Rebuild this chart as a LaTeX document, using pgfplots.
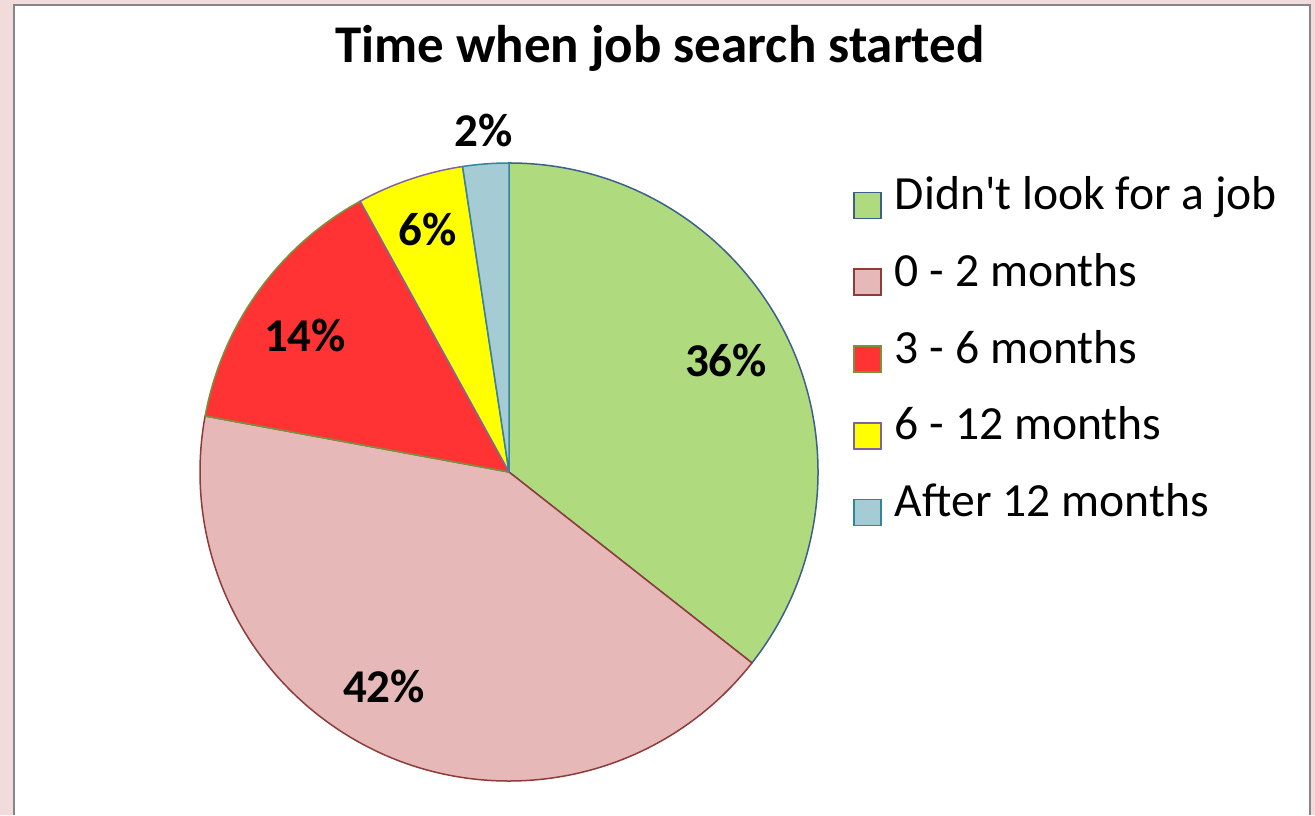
\documentclass[border=0pt]{standalone}
\usepackage{fontspec}
\setmainfont{Carlito}
\usepackage{pgfplots}
\usepackage{pgfplotstable}
\pgfplotsset{compat=1.18}

\definecolor{pagebg}{RGB}{242,220,219}
\definecolor{framegray}{RGB}{134,134,134}
\definecolor{sGreen}{RGB}{176,218,126}
\definecolor{sGreenL}{RGB}{60,95,140}
\definecolor{sPink}{RGB}{230,185,184}
\definecolor{sPinkL}{RGB}{142,59,57}
\definecolor{sRed}{RGB}{255,51,51}
\definecolor{sRedL}{RGB}{119,147,60}
\definecolor{sYellow}{RGB}{255,255,0}
\definecolor{sYellowL}{RGB}{128,100,162}
\definecolor{sBlue}{RGB}{165,203,213}
\definecolor{sBlueL}{RGB}{49,133,156}

% share (%), colours, label position (picture units, y up)
\pgfplotstableread[col sep=comma]{
label,value,fillc,linec,lx,ly
Didn\textquotesingle t look for a job,35.6,sGreen,sGreenL,726,438
0 - 2 months,42.3,sPink,sPinkL,384,113
3 - 6 months,14.1,sRed,sRedL,305,463
6 - 12 months,5.6,sYellow,sYellowL,428,569
After 12 months,2.4,sBlue,sBlueL,484,668
}\pietable

\begin{document}
\begin{tikzpicture}
\begin{axis}[
    x=0.5bp, y=0.5bp,
    xmin=0, xmax=1315, ymin=0, ymax=815,
    hide axis,
    legend cell align=left,
    legend style={
        at={(axis cs:853,638)}, anchor=north west,
        draw=none, fill=none, inner sep=0pt,
        font=\fontsize{23.8bp}{28bp}\selectfont,
        nodes={inner sep=0pt, text height=16bp, text depth=5bp},
        row sep=17.4bp, column sep=6.5bp,
    },
]
\fill[pagebg] (axis cs:0,0) rectangle (axis cs:1315,815);
\fill[white] (axis cs:14,0) rectangle (axis cs:1310,810);
\draw[framegray, line width=1.2bp] (axis cs:14,0) -- (axis cs:14,810) -- (axis cs:1310,810) -- (axis cs:1310,0);

\node[font=\bfseries\fontsize{26.5bp}{30bp}\selectfont, anchor=base]
    at (axis cs:660,752) {Time when job search started};

% slices, clockwise from the top
\def\startang{90}
\pgfplotsforeachungrouped \i in {0,...,4}{%
    \pgfplotstablegetelem{\i}{value}\of\pietable \let\v\pgfplotsretval
    \pgfplotstablegetelem{\i}{fillc}\of\pietable \let\fc\pgfplotsretval
    \pgfplotstablegetelem{\i}{linec}\of\pietable \let\lc\pgfplotsretval
    \pgfplotstablegetelem{\i}{label}\of\pietable \let\lab\pgfplotsretval
    \pgfmathsetmacro\endang{\startang-3.6*\v}
    \edef\slice{\noexpand\filldraw[fill=\fc, draw=\lc, line width=0.75bp, line join=round]
        (axis cs:509,343) -- ++(\startang:154.5bp)
        arc[start angle=\startang, end angle=\endang, radius=154.5bp] -- cycle;}%
    \slice
    \edef\legimg{\noexpand\addlegendimage{legend image code/.code={%
        \noexpand\filldraw[fill=\fc, draw=\lc, line width=0.75bp] (0bp,-10bp) rectangle (13.5bp,3bp);}}}%
    \legimg
    \expandafter\addlegendentry\expandafter{\lab}%
    \let\startang\endang
}

% percentage labels
\pgfplotsforeachungrouped \i in {0,...,4}{%
    \pgfplotstablegetelem{\i}{value}\of\pietable \let\v\pgfplotsretval
    \pgfplotstablegetelem{\i}{lx}\of\pietable \let\lx\pgfplotsretval
    \pgfplotstablegetelem{\i}{ly}\of\pietable \let\ly\pgfplotsretval
    \pgfmathtruncatemacro\pct{round(\v)}
    \edef\lbl{\noexpand\node[font=\noexpand\bfseries\noexpand\fontsize{23.5bp}{28bp}\noexpand\selectfont, anchor=base]
        at (axis cs:\lx,\ly) {\pct\noexpand\%};}%
    \lbl
}
\end{axis}
\end{tikzpicture}
\end{document}
